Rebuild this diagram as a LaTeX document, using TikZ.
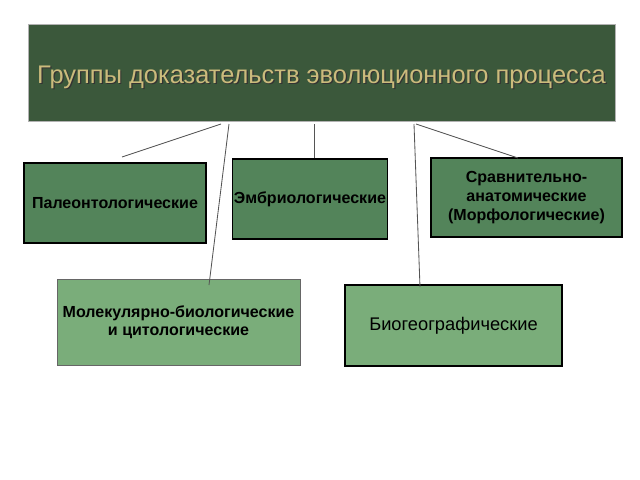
\documentclass[tikz,border=0pt]{standalone}
\usepackage{fontspec}
\setmainfont{Liberation Sans}
\usetikzlibrary{shapes,positioning}
\definecolor{titlegreen}{HTML}{3B583B}
\definecolor{midgreen}{HTML}{53845A}
\definecolor{lightgreen}{HTML}{7AAD7A}
\definecolor{titletext}{HTML}{CBBB7C}
\definecolor{linegray}{HTML}{555555}
\tikzset{%
	titlebox/.style  	= {draw=gray!60, rectangle, fill=titlegreen, minimum width = 14.675cm, minimum height = 2.425cm}, % Header
	titletxt/.style  	= {text=titletext, font=\fontsize{18.1}{22}\selectfont},
	block/.style    	= {draw, line width=0.8pt, rectangle, fill=midgreen, align=center, inner sep=1pt, minimum height = 2cm, font=\fontsize{11.4}{13.5}\selectfont\bfseries},
	lightblock/.style 	= {draw=gray!80!black, line width=0.5pt, rectangle, fill=lightgreen, align=center, inner sep=1pt, font=\fontsize{11.4}{13}\selectfont\bfseries},
	thickblock/.style 	= {draw, line width=1.6pt, rectangle, fill=lightgreen, align=center, inner sep=1pt, font=\fontsize{13}{15}\selectfont},
	link/.style     	= {draw=linegray, line width=0.6pt}
}

\begin{document}
\begin{tikzpicture}[x=0.025cm, y=-0.025cm]
	\useasboundingbox (0,0) rectangle (640,480);
	\draw % Drawing the header and the groups
	node at (321.5, 72.5) [titlebox] (title) {}
	node at (322.7, 78.5) [titletxt, text=black!80] (shade) {Группы доказательств эволюционного процесса}
	node at (321.5, 77.3) [titletxt] (head) {Группы доказательств эволюционного процесса}
	node at (115, 203) [block, minimum width = 4.55cm] (paleo) {Палеонтологические}
	node at (310, 199) [block, minimum width = 3.85cm] (embryo) {Эмбриологические}
	node at (526.5, 197.5) [block, minimum width = 4.775cm, minimum height = 1.975cm] (morph) {Сравнительно-\\анатомические\\(Морфологические)}
	node at (178.5, 322) [lightblock, minimum width = 6.075cm, minimum height = 2.15cm] (molec) {Молекулярно-биологические\\и цитологические}
	node at (453.5, 325.5) [thickblock, minimum width = 5.425cm, minimum height = 2.025cm] (biogeo) {Биогеографические}
	;

	% Points on the header and free ends
	\coordinate (t1) at (221, 124);
	\coordinate (t2) at (229, 124);
	\coordinate (t3) at (314, 124);
	\coordinate (t4) at (414, 124);
	\coordinate (t5) at (416, 124);
	\coordinate (e1) at (122, 157);
	\coordinate (e2) at (209, 285);
	\coordinate (e4) at (420, 287);
	\coordinate (e5) at (518, 158);

	% Drawing the lines
	\draw[link] (t1) -- (e1);
	\draw[link] (t2) -- (e2);
	\draw[link] (t3) -- (t3 |- embryo.north);
	\draw[link] (t4) -- (e4);
	\draw[link] (t5) -- (e5);
\end{tikzpicture}
\end{document}
